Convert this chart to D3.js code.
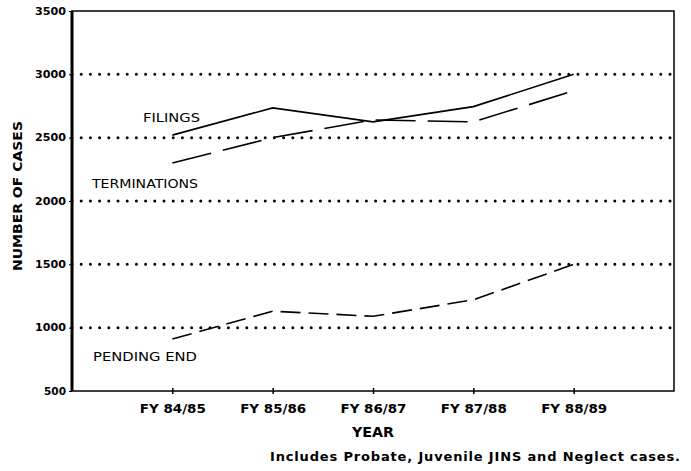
<!DOCTYPE html>
<html>
<head>
<meta charset="utf-8">
<script src="https://cdn.jsdelivr.net/npm/d3@7"></script>
<style>
  body { margin: 0; background: #fff; }
  text { font-family: "DejaVu Sans", sans-serif; fill: #000; }
</style>
</head>
<body>
<div class="canvas"></div>
<script>
const years = ["FY 84/85", "FY 85/86", "FY 86/87", "FY 87/88", "FY 88/89"];
const filings = [2520, 2735, 2625, 2745, 3000];
const terminations = [2300, 2500, 2640, 2625, 2870];
const pendingEnd = [910, 1130, 1090, 1220, 1500];
const yTicks = [500, 1000, 1500, 2000, 2500, 3000, 3500];

const margin = { top: 11, bottom: 80, left: 72, right: 17 };
const width = 691, height = 471;
const graphWidth = width - margin.left - margin.right;
const graphHeight = height - margin.top - margin.bottom;

const svg = d3
  .select(".canvas")
  .append("svg")
  .attr("width", width)
  .attr("height", height);

const graph = svg
  .append("g")
  .attr("transform", `translate(${margin.left},${margin.top})`);

// scales: one empty slot either side of the years
const x = d3.scaleLinear().domain([-1, years.length]).range([0, graphWidth]);
const y = d3.scaleLinear().domain([500, 3500]).range([graphHeight, 0]);

// dotted grid lines
graph
  .selectAll(".grid")
  .data(yTicks.filter((d) => d > 500 && d < 3500))
  .enter()
  .append("line")
  .attr("class", "grid")
  .attr("x1", 0)
  .attr("x2", graphWidth)
  .attr("y1", (d) => y(d))
  .attr("y2", (d) => y(d))
  .attr("stroke", "#000")
  .attr("stroke-width", 3)
  .attr("stroke-linecap", "round")
  .attr("stroke-dasharray", "0 9.2");

// frame
graph
  .append("rect")
  .attr("width", graphWidth)
  .attr("height", graphHeight)
  .attr("fill", "none")
  .attr("stroke", "#000")
  .attr("stroke-width", 1.5);
graph
  .append("line")
  .attr("x1", 0)
  .attr("x2", 0)
  .attr("y1", 0)
  .attr("y2", graphHeight)
  .attr("stroke", "#000")
  .attr("stroke-width", 3);

// axes
const yAxis = d3.axisLeft(y).tickValues(yTicks).tickSize(3).tickFormat((d) => d);
const yAxisGroup = graph.append("g").call(yAxis);
yAxisGroup.select(".domain").remove();
yAxisGroup
  .selectAll("text")
  .attr("font-size", 10)
  .attr("font-weight", "bold")
  .attr("x", -6)
  .attr("textLength", (d) => (d === 500 ? 22 : 31))
  .attr("lengthAdjust", "spacingAndGlyphs");

const xAxis = d3
  .axisBottom(x)
  .tickValues(d3.range(years.length))
  .tickSize(3)
  .tickFormat((i) => years[i]);
const xAxisGroup = graph
  .append("g")
  .attr("transform", `translate(0,${graphHeight})`)
  .call(xAxis);
xAxisGroup.select(".domain").remove();
xAxisGroup.selectAll(".tick line").attr("y1", -3).attr("stroke-width", 1.5);
xAxisGroup
  .selectAll("text")
  .attr("font-size", 12)
  .attr("font-weight", "bold")
  .attr("y", 13)
  .attr("textLength", 66)
  .attr("lengthAdjust", "spacingAndGlyphs");

// lines
const line = d3
  .line()
  .x((d, i) => x(i))
  .y((d) => y(d));

const series = [
  { values: filings, dash: null },
  { values: terminations, dash: "40 12" },
  { values: pendingEnd, dash: "20 8" },
];

graph
  .selectAll(".series")
  .data(series)
  .enter()
  .append("path")
  .attr("class", "series")
  .attr("d", (d) => line(d.values))
  .attr("fill", "none")
  .attr("stroke", "#000")
  .attr("stroke-width", 1.6)
  .attr("stroke-dasharray", (d) => d.dash);

// series labels
const labels = [
  { text: "FILINGS", x: 143, y: 122, w: 57 },
  { text: "TERMINATIONS", x: 92, y: 188, w: 106 },
  { text: "PENDING END", x: 93, y: 361, w: 104 },
];
svg
  .selectAll(".label")
  .data(labels)
  .enter()
  .append("text")
  .attr("class", "label")
  .attr("x", (d) => d.x)
  .attr("y", (d) => d.y)
  .attr("font-size", 12)
  .attr("textLength", (d) => d.w)
  .attr("lengthAdjust", "spacingAndGlyphs")
  .text((d) => d.text);

// axis titles
svg
  .append("text")
  .attr("x", x(2) + margin.left)
  .attr("y", 437)
  .attr("text-anchor", "middle")
  .attr("font-size", 14)
  .attr("font-weight", "bold")
  .attr("textLength", 42)
  .attr("lengthAdjust", "spacingAndGlyphs")
  .text("YEAR");

svg
  .append("text")
  .attr("transform", "translate(22,196) rotate(-90)")
  .attr("text-anchor", "middle")
  .attr("font-size", 13)
  .attr("font-weight", "bold")
  .attr("textLength", 150)
  .attr("lengthAdjust", "spacingAndGlyphs")
  .text("NUMBER OF CASES");

// footnote
svg
  .append("text")
  .attr("x", 270)
  .attr("y", 461)
  .attr("font-size", 13)
  .attr("font-weight", "bold")
  .attr("textLength", 410)
  .text("Includes Probate, Juvenile JINS and Neglect cases.");
</script>
</body>
</html>
